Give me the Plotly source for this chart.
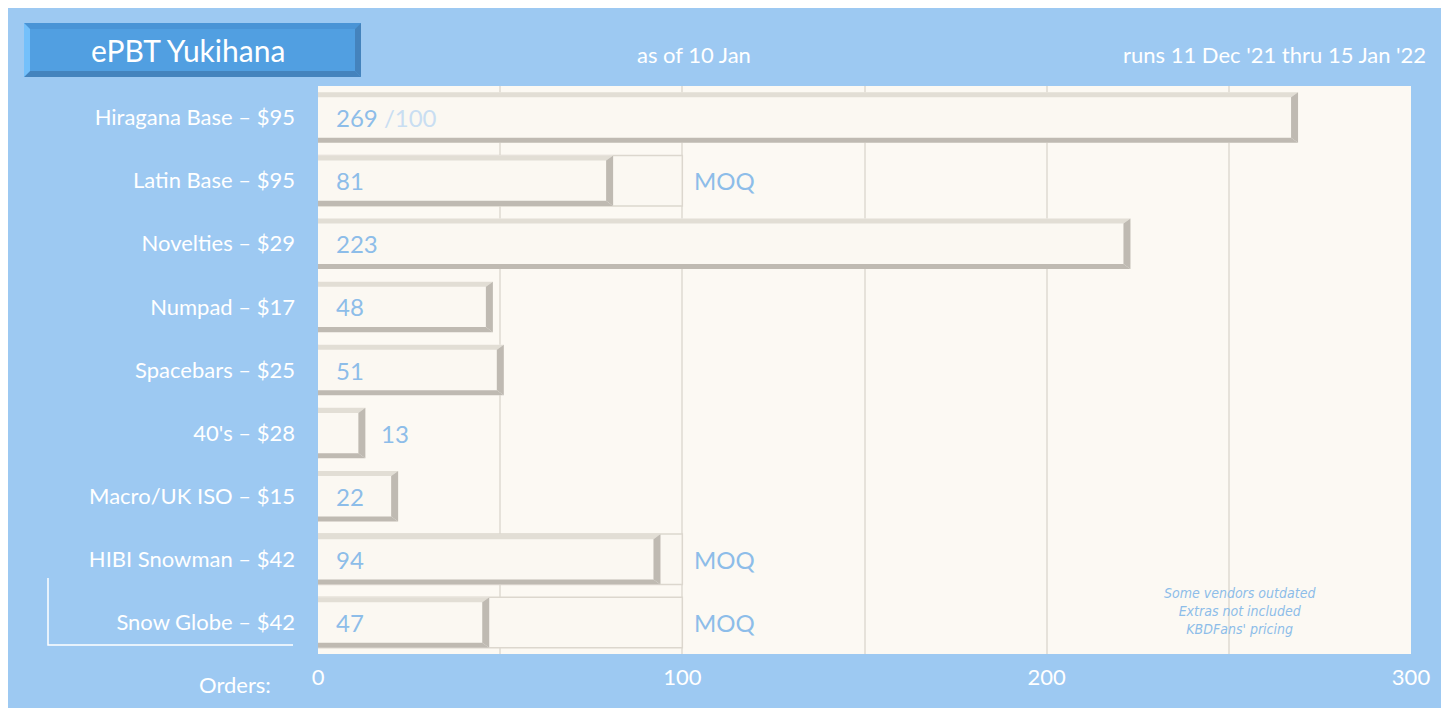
import plotly.graph_objects as go

categories = ["Hiragana Base – $95", "Latin Base – $95", "Novelties – $29", "Numpad – $17",
              "Spacebars – $25", "40's – $28", "Macro/UK ISO – $15", "HIBI Snowman – $42",
              "Snow Globe – $42"]
orders = [269, 81, 223, 48, 51, 13, 22, 94, 47]
moq = [None, 100, None, None, None, None, None, 100, 100]
xticks = [0, 100, 200, 300]

BG = "#9dc9f2"; PLOT = "#fcf9f3"; FILL = "#fbf8f2"
LIGHT = "#e2ded5"; DARK = "#bfbab2"; TXT = "#8dbde9"
FONT = "Lato"
W = 0.8
ys = list(range(len(categories)))

fig = go.Figure()
# MOQ outline bars
mx = [m if m else 0 for m in moq]
fig.add_trace(go.Bar(y=ys, x=mx, orientation="h", width=W, marker=dict(color=FILL, line=dict(color="#dcd7ce", width=1.5)),
                     hoverinfo="skip", showlegend=False))
fig.add_trace(go.Bar(y=ys, x=orders, orientation="h", width=W, marker=dict(color=FILL, line=dict(width=0)),
                     showlegend=False))
fig.update_layout(barmode="overlay")

shapes = []
e = 0.08  # bevel thickness (y units)
for i, v in enumerate(orders):
    t, b = i - W / 2, i + W / 2
    dx = 300 * 7 / 1093
    shapes.append(dict(type="path", xref="x", yref="y", line=dict(width=0), fillcolor=LIGHT,
                       path=f"M0,{t} L{v},{t} L{v-dx},{t+e} L0,{t+e} Z"))
    shapes.append(dict(type="path", xref="x", yref="y", line=dict(width=0), fillcolor=DARK,
                       path=f"M0,{b} L{v},{b} L{v-dx},{b-e} L0,{b-e} Z"))
    shapes.append(dict(type="path", xref="x", yref="y", line=dict(width=0), fillcolor=DARK,
                       path=f"M{v},{t} L{v},{b} L{v-dx},{b-e} L{v-dx},{t+e} Z"))

# title box with bevel (paper pixels -> paper fractions)
def px(x): return x / 1449
def py(y): return 1 - y / 708
def prect(x0, y0, x1, y1):
    return f"M{(x0-310)/1093},{(646-y0)/568} L{(x1-310)/1093},{(646-y1)/568}"
def ppath(pts, color):
    d = "M" + " L".join(f"{(x-310)/1093},{(646-y)/568}" for x, y in pts) + " Z"
    return dict(type="path", xref="paper", yref="paper", path=d, fillcolor=color, line=dict(width=0), layer="above")
bx0, by0, bx1, by1, b = 16, 15, 353, 69, 6
shapes.append(ppath([(bx0, by0), (bx1, by0), (bx1, by1), (bx0, by1)], "#519fe1"))
shapes.append(ppath([(bx0, by0), (bx1, by0), (bx1 - b, by0 + b), (bx0 + b, by0 + b)], "#4a94d6"))
shapes.append(ppath([(bx0, by1), (bx1, by1), (bx1 - b, by1 - b), (bx0 + b, by1 - b)], "#4483bd"))
shapes.append(ppath([(bx1, by0), (bx1, by1), (bx1 - b, by1 - b), (bx1 - b, by0 + b)], "#4483bd"))
shapes.append(ppath([(bx0, by0), (bx0, by1), (bx0 + b, by1 - b), (bx0 + b, by0 + b)], "#74c0fb"))
# bracket
d = "M" + " L".join(f"{(x-310)/1093},{(646-y)/568}" for x, y in [(40, 570), (40, 637), (285, 637)])
shapes.append(dict(type="path", xref="paper", yref="paper", path=d, line=dict(color="white", width=1.5)))

ann = []
for i, v in enumerate(orders):
    if v < 20:
        ann.append(dict(x=v, y=i, xref="x", yref="y", text=str(v), showarrow=False, xanchor="left", xshift=14,
                        font=dict(color=TXT, size=24, family=FONT)))
    else:
        txt = str(v) + (" <span style='color:#c9def2'>/100</span>" if i == 0 else "")
        ann.append(dict(x=0, y=i, xref="x", yref="y", text=txt, showarrow=False, xanchor="left", xshift=16,
                        font=dict(color=TXT, size=24, family=FONT)))
    if moq[i]:
        ann.append(dict(x=moq[i], y=i, xref="x", yref="y", text="MOQ", showarrow=False, xanchor="left", xshift=10,
                        font=dict(color=TXT, size=24, family=FONT)))
def pann(x, y, text, size, anchor, color="white", **kw):
    ann.append(dict(x=(x - 310) / 1093, y=(646 - y) / 568, xref="paper", yref="paper", text=text, showarrow=False,
                    xanchor=anchor, yanchor="middle", font=dict(color=color, size=size, family=FONT), **kw))
pann(180, 42, "ePBT Yukihana", 30, "center")
pann(686, 46, "as of 10 Jan", 22, "center")
pann(1420, 46, "runs 11 Dec '21 thru 15 Jan '22", 22, "right")
pann(265, 676, "Orders:", 22, "right")
ann.append(dict(x=(1310 - 310) / 1093, y=(646 - 603) / 568, xref="paper", yref="paper", showarrow=False,
                text="<i>Some vendors outdated<br>Extras not included<br>KBDFans' pricing</i>",
                font=dict(color=TXT, size=14, family="DejaVu Sans Condensed"), align="center", yanchor="middle"))

fig.update_layout(
    width=1449, height=708, paper_bgcolor=BG, plot_bgcolor=PLOT,
    margin=dict(l=310, r=46, t=78, b=62), shapes=shapes, annotations=ann,
    font=dict(family=FONT, color="white", size=22),
    xaxis=dict(range=[0, 300], tickvals=xticks, gridcolor="#e6e2da", gridwidth=2, zeroline=False,
               showline=False, ticks="", tickfont=dict(size=22, color="white"), ticklabelstandoff=8),
    yaxis=dict(range=[8.5, -0.5], tickvals=ys, ticktext=categories, showgrid=False, zeroline=False,
               ticks="", tickfont=dict(size=22, color="white"), ticklabelstandoff=22),
)
fig.add_trace(go.Scatter(x=[50, 150, 250], y=[None]*3, showlegend=False))
fig.update_xaxes(minor=dict(tickvals=[50, 150, 250], showgrid=True, gridcolor="#e6e2da", gridwidth=2))
fig.write_html("out.html")
